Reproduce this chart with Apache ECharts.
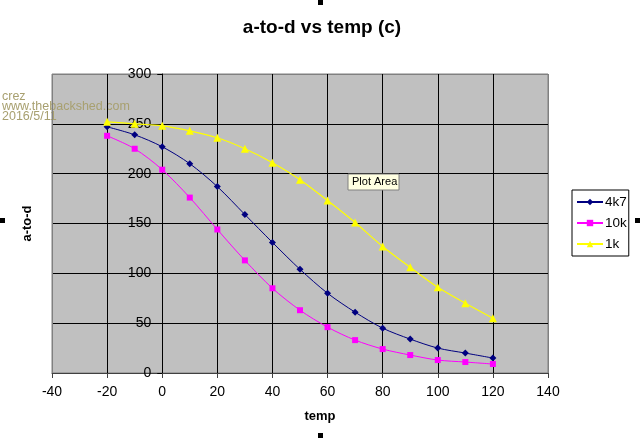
<!DOCTYPE html>
<html><head><meta charset="utf-8">
<script src="https://cdn.jsdelivr.net/npm/echarts@6/dist/echarts.min.js"></script>
<style>html,body{margin:0;padding:0;background:#fff}#c{width:640px;height:438px}</style>
</head><body><div id="c"></div>
<script>
const temps = [-20,-10,0,10,20,30,40,50,60,70,80,90,100,110,120];
const s4k7 = [247,239,227,210,187,159,131,104,80,61,45,34,25,20,15];
const s10k = [238,225,204,176,144,113,85,63,46,33,24,18,13,11,9];
const s1k  = [252,250,248,243,236,225,211,194,173,151,127,106,86,70,55];
const seriesNames = ['4k7','10k','1k'];
const xTicks = {min:-40, max:140, interval:20};
const yTicks = {min:0, max:300, interval:50};

const pair = arr => temps.map((t,i)=>[t,arr[i]]);
const font = 'Arial, "Liberation Sans", sans-serif';
const G = {left:52, top:74, right:92, bottom:65};
const plotW = 640 - G.left - G.right;
// shift the y axis so it crosses the x axis at temp = 0
const zeroShift = (0 - xTicks.min) / (xTicks.max - xTicks.min) * plotW;
const chart = echarts.init(document.getElementById('c'));
chart.setOption({
  animation:false,
  grid:Object.assign({show:true,backgroundColor:'#C0C0C0',borderColor:'#808080',borderWidth:1}, G),
  xAxis:{type:'value',min:xTicks.min,max:xTicks.max,interval:xTicks.interval,
    axisLine:{onZero:false,lineStyle:{color:'#404040'}},
    axisTick:{show:true,length:5,lineStyle:{color:'#404040'}},
    axisLabel:{color:'#000',fontFamily:font,fontSize:14,margin:12},
    splitLine:{show:true,lineStyle:{color:['#808080','#000','#000','#000','#000','#000','#000','#000','#000','#808080'],width:1}}},
  yAxis:{type:'value',min:yTicks.min,max:yTicks.max,interval:yTicks.interval,
    position:'left',offset:-zeroShift,
    name:'a-to-d',nameLocation:'middle',nameGap:128,
    nameTextStyle:{fontFamily:font,fontSize:13,fontWeight:'bold',color:'#000'},
    axisLine:{show:true,onZero:false,lineStyle:{color:'#000'}},
    axisTick:{show:true,length:5,lineStyle:{color:'#000'}},
    axisLabel:{color:'#000',fontFamily:font,fontSize:14,margin:11},
    splitLine:{show:true,lineStyle:{color:['#404040','#000','#000','#000','#000','#000','#808080'],width:1}}},
  legend:{orient:'vertical',left:572,top:190,
    backgroundColor:'#fff',borderColor:'#000',borderWidth:1,
    padding:[5,2,5,4],itemGap:7,itemWidth:26,itemHeight:8,
    textStyle:{fontFamily:font,fontSize:13.5,color:'#000',padding:[0,0,0,-3]},
    data:seriesNames},
  series:[
    {name:seriesNames[0],type:'line',smooth:0.3,data:pair(s4k7),symbol:'diamond',symbolSize:7,
      itemStyle:{color:'#000080'},lineStyle:{color:'#000080',width:1}},
    {name:seriesNames[1],type:'line',smooth:0.3,data:pair(s10k),symbol:'rect',symbolSize:6,
      itemStyle:{color:'#FF00FF'},lineStyle:{color:'#FF00FF',width:1}},
    {name:seriesNames[2],type:'line',smooth:0.3,data:pair(s1k),symbol:'triangle',symbolSize:8,
      itemStyle:{color:'#FFFF00'},lineStyle:{color:'#FFFF00',width:1.2}}
  ],
  graphic:[
    {type:'text',x:322,y:28,style:{text:'a-to-d vs temp (c)',font:'bold 19px '+font,fill:'#000',textAlign:'center',textVerticalAlign:'middle'}},
    {type:'text',x:320,y:416,style:{text:'temp',font:'bold 13px '+font,fill:'#000',textAlign:'center',textVerticalAlign:'middle'}},
    {type:'text',x:2,y:92,style:{text:'crez\nwww.thebackshed.com\n2016/5/11',font:'12.5px '+font,lineHeight:10,fill:'#A8A070'}},
    {type:'rect',shape:{x:348,y:174,width:51,height:16},style:{fill:'#FFFFE1',stroke:'#808080',lineWidth:1},z:100},
    {type:'text',x:352,y:182,style:{text:'Plot Area',font:'11px '+font,fill:'#000',textVerticalAlign:'middle'},z:101},
    {type:'rect',shape:{x:0,y:218,width:5,height:5},style:{fill:'#000'}},
    {type:'rect',shape:{x:635,y:218,width:5,height:5},style:{fill:'#000'}},
    {type:'rect',shape:{x:318,y:0,width:5,height:5},style:{fill:'#000'}},
    {type:'rect',shape:{x:318,y:433,width:5,height:5},style:{fill:'#000'}}
  ]
});
</script></body></html>
